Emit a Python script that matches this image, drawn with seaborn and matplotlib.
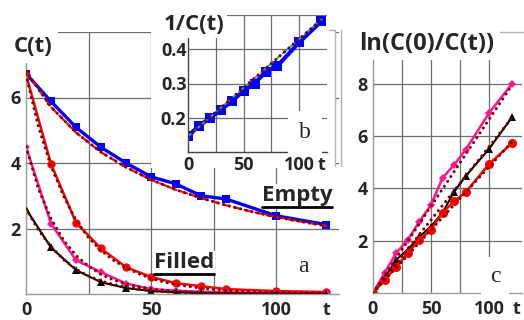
import numpy as np
import pandas as pd
import seaborn as sns
import matplotlib
matplotlib.use("Agg")
from matplotlib import pyplot as plt
from matplotlib.lines import Line2D
from matplotlib.patches import Rectangle
import matplotlib.transforms as mtransforms

sns.set_style("white")
FONT = ["Open Sans", "DejaVu Sans"]
plt.rcParams["font.family"] = FONT
plt.rcParams["font.weight"] = "bold"

# observation times
t_obs = [0, 10, 20, 30, 40, 50, 60, 70, 80, 100, 120]

# panel a: C(t)
c_empty = [6.73, 5.88, 5.09, 4.48, 4.0, 3.58, 3.36, 3.0, 2.9, 2.39, 2.12]
c_red = [6.7, 3.97, 2.18, 1.39, 0.82, 0.52, 0.33, 0.24, 0.15, 0.09, 0.06]
c_pink = [4.5, 2.15, 1.03, 0.67, 0.32, 0.15, 0.1, 0.07, 0.05, 0.03, 0.02]
c_black = [2.6, 1.42, 0.73, 0.36, 0.18, 0.09, 0.05, 0.03, 0.02, 0.01, 0.01]

# fitted curves for panel a
t_fit_empty = [0, 10, 20, 30, 40, 50, 60, 70, 80, 90, 100, 110, 120]
fit_empty = [6.8, 5.71, 4.93, 4.33, 3.87, 3.49, 3.18, 2.93, 2.71, 2.52, 2.35, 2.21, 2.08]
t_fit = [0, 5, 10, 15, 20, 25, 30, 35, 40, 45, 50, 55, 60, 65, 70, 75, 80,
         85, 90, 95, 100, 105, 110, 115, 120]
fit_red = [6.7, 5.1, 3.9, 3.0, 2.25, 1.72, 1.33, 1.03, 0.8, 0.62, 0.48, 0.37,
           0.29, 0.23, 0.18, 0.14, 0.11, 0.09, 0.07, 0.06, 0.05, 0.04, 0.03, 0.03, 0.02]
fit_pink = [4.5, 3.2, 2.3, 1.65, 1.18, 0.85, 0.6, 0.43, 0.31, 0.22, 0.16, 0.12,
            0.08, 0.06, 0.04, 0.03, 0.02, 0.02, 0.01, 0.01, 0.01, 0.0, 0.0, 0.0, 0.0]
fit_black = [2.6, 1.95, 1.45, 1.05, 0.76, 0.55, 0.4, 0.29, 0.21, 0.15, 0.1, 0.07,
             0.05, 0.04, 0.03, 0.02, 0.02, 0.01, 0.01, 0.01, 0.0, 0.0, 0.0, 0.0, 0.0]

# panel b: 1/C(t) for empty
inv_empty = [0.147, 0.176, 0.2, 0.224, 0.25, 0.279, 0.3, 0.335, 0.35, 0.42, 0.482]
t_line = [0, 120]
fit_inv = [0.145, 0.487]

# panel c: ln(C(0)/C(t)) for filled
ln_red = [0, 0.5, 1.0, 1.53, 2.03, 2.42, 3.07, 3.5, 3.85, 4.92, 5.73]
ln_pink = [0, 0.77, 1.53, 2.03, 2.73, 3.37, 4.4, 4.9, 5.48, 6.87, 8.0]
ln_black = [0, 0.58, 1.27, 1.65, 2.15, 2.54, 3.07, 3.87, 4.47, 5.5, 6.72]
fit_ln_red = [0, 5.78]
fit_ln_pink = [0, 7.95]
fit_ln_black = [0, 6.7]

W, H = 524, 320
BLUE, RED, PINK, BLACK, FITC = "#0000ff", "#ff0000", "#ff1493", "#000000", "#7a0000"
GRID = "#6e6e6e"
DOTS = (0, (0.01, 1.9))


def px_rect(x0, y0, x1, y1):
    return [x0 / W, 1 - y1 / H, (x1 - x0) / W, (y1 - y0) / H]


def style_axes(ax, xgrid, ygrid, xticks, xlabels, yticks, ylabels, ypad, xpad, size=13):
    for v in xgrid:
        ax.axvline(v, color=GRID, lw=0.9, zorder=0)
    for v in ygrid:
        ax.axhline(v, color=GRID, lw=0.9, zorder=0)
    for side in ["top", "right"]:
        ax.spines[side].set_visible(False)
    for side in ["left", "bottom"]:
        ax.spines[side].set_color("#9a9a9a")
        ax.spines[side].set_linewidth(1.0)
    ax.set_xticks(xticks)
    ax.set_xticklabels(xlabels)
    ax.set_yticks(yticks)
    ax.set_yticklabels(ylabels)
    ax.tick_params(length=0, labelsize=size)
    ax.tick_params(axis="y", pad=ypad)
    ax.tick_params(axis="x", pad=xpad)
    for lab in ax.get_xticklabels() + ax.get_yticklabels():
        lab.set_fontweight("bold")
    ax.set_xlabel("")
    ax.set_ylabel("")


def line(ax, x, y, color, marker=None, ms=5, lw=1.8, ls="-", z=2):
    sns.lineplot(x=x, y=y, ax=ax, color=color, marker=marker, markersize=ms,
                 markeredgewidth=0, lw=lw, linestyle=ls, zorder=z, estimator=None,
                 dash_capstyle="round")


def fig_line(xs, ys, color="#b4b4b4", z=1.5):
    fig.add_artist(Line2D([x / W for x in xs], [1 - y / H for y in ys], color=color,
                          lw=1, transform=fig.transFigure, zorder=z))


fig = plt.figure(figsize=(W / 100, H / 100), dpi=100)

# ---- panel a
ax_a = fig.add_axes(px_rect(26, 32, 338.5, 294), zorder=0)
ax_a.axhline(8, color=GRID, lw=0.9, zorder=0)
line(ax_a, t_obs, c_empty, BLUE, "s", ms=6, lw=2.4)
line(ax_a, t_fit_empty, fit_empty, RED, lw=1.6, ls=(0, (3, 2)), z=3)
line(ax_a, t_fit_empty, fit_empty, FITC, lw=2.2, ls=DOTS, z=4)
line(ax_a, t_obs, c_red, RED, "o", ms=6, lw=1.8)
line(ax_a, t_obs, c_pink, PINK, "D", ms=4, lw=1.8)
line(ax_a, t_obs, c_black, BLACK, "^", ms=5.5, lw=1.5)
for f in [fit_red, fit_pink, fit_black]:
    line(ax_a, t_fit, f, FITC, lw=2.2, ls=DOTS, z=4)
ax_a.set_xlim(0, 125)
ax_a.set_ylim(0, 8)
style_axes(ax_a, [25, 50, 75, 100], [2, 4, 6], [0, 50, 100, 120],
           ["0", "50", "100", "t"], [2, 4, 6], ["2", "4", "6"], 4, 5)

# white backing for the inset (includes its tick labels)
fig.add_artist(Rectangle((151 / W, 1 - 168 / H), (336 - 151) / W, 168 / H,
                         transform=fig.transFigure, facecolor="white",
                         edgecolor="none", zorder=1))
# faint frame pieces around the inset and the right panel
fig_line([335, 335], [30, 166])
fig_line([329, 335], [30, 30])
fig_line([341, 341], [30, 166])
fig_line([500, 524], [32, 32])

# ---- panel b (inset)
ax_b = fig.add_axes(px_rect(188, 15, 327, 152), zorder=2)
ax_b.set_facecolor("white")
ax_b.axhline(0.5, color=GRID, lw=0.9, zorder=0)
line(ax_b, t_obs, inv_empty, BLUE, "s", ms=7, lw=3)
line(ax_b, t_line, fit_inv, "#3f9f8f", lw=1.4, ls=(0, (3, 2)), z=3)
line(ax_b, t_line, fit_inv, FITC, lw=2.2, ls=DOTS, z=4)
ax_b.set_xlim(0, 125)
ax_b.set_ylim(0.1, 0.5)
style_axes(ax_b, [25, 50, 75, 100], [0.2, 0.3, 0.4], [0, 50, 100, 120],
           ["0", "50", "100", "t"], [0.2, 0.3, 0.4], ["0.2", "0.3", "0.4"], 1, 3)
ax_b.spines["left"].set_color("#444444")
ax_b.spines["bottom"].set_color("#444444")

# ---- panel c
ax_c = fig.add_axes(px_rect(373, 60, 522, 293), zorder=0)
line(ax_c, t_obs, ln_pink, PINK, "D", ms=4, lw=1.8)
line(ax_c, t_obs, ln_black, BLACK, "^", ms=5.5, lw=1.5)
line(ax_c, t_obs, ln_red, RED, "o", ms=6.5, lw=1.8)
for f in [fit_ln_red, fit_ln_pink, fit_ln_black]:
    line(ax_c, t_line, f, FITC, lw=2.2, ls=DOTS, z=4)
ax_c.set_xlim(0, 128.5)
ax_c.set_ylim(0, 8.9)
style_axes(ax_c, [25, 50, 75, 100], [2, 4, 6, 8], [0, 50, 100, 124],
           ["0", "50", "100", "t"], [2, 4, 6, 8], ["2", "4", "6", "8"], 4, 5)


def ftext(x, y, s, size, family=None, weight="bold", pad=1.0, **kw):
    return fig.text(x / W, 1 - y / H, s, fontsize=size, fontweight=weight,
                    family=family or FONT, ha="center", va="center",
                    bbox=dict(facecolor="white", edgecolor="none", pad=pad), zorder=10, **kw)


ftext(33, 47, "C(t)", 16, pad=4)
ftext(194, 25, "1/C(t)", 16, pad=2)
ftext(427, 44, "ln(C(0)/C(t))", 17, pad=2)
empty_lbl = ftext(297, 195, "Empty", 16, pad=0.5)
filled_lbl = ftext(184, 262, "Filled", 16, pad=0.5)
ftext(303, 267, "a", 17, family=["Liberation Serif"], weight="normal", pad=2)
ftext(305, 133, "b", 17, family=["Liberation Serif"], weight="normal", pad=8)
ftext(495, 276, "c", 17, family=["Liberation Serif"], weight="normal", pad=6)

# underline the Empty / Filled labels
fig.canvas.draw()
for lbl in [empty_lbl, filled_lbl]:
    bb = lbl.get_window_extent()
    fig.add_artist(Line2D([bb.x0, bb.x1], [bb.y0 - 1, bb.y0 - 1], color="black", lw=2,
                          transform=mtransforms.IdentityTransform(), zorder=11))

fig.savefig("out.png", dpi=100)
